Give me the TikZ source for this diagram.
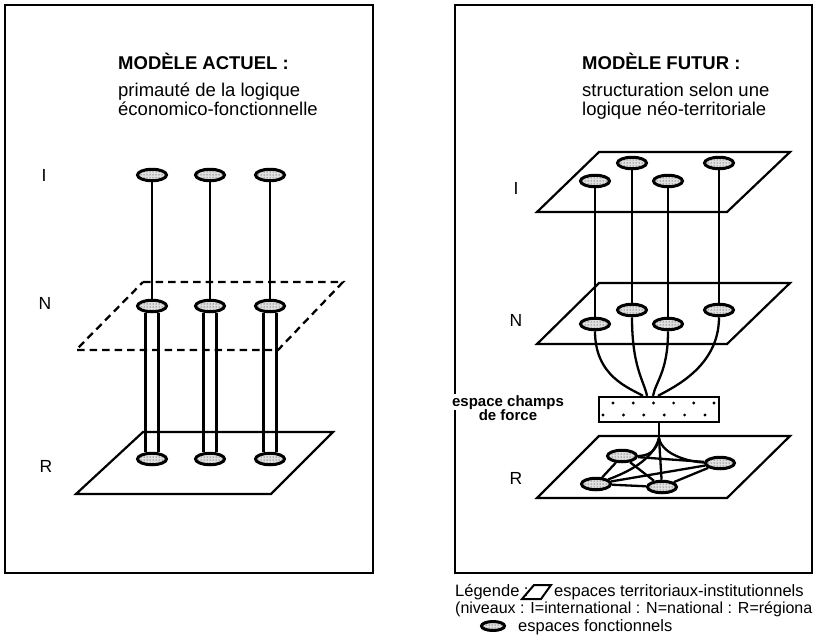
\documentclass[tikz,border=0pt]{standalone}
\usepackage{fontspec}
\setmainfont{Liberation Sans}
\usetikzlibrary{shapes.geometric,patterns,backgrounds}
\begin{document}
\begin{tikzpicture}[x=1pt,y=-1pt,
  fe/.style={ellipse, draw, line width=3pt, minimum width=29pt, minimum height=11.5pt, inner sep=0pt,
    fill=black!12, postaction={pattern=dots, pattern color=black!90}},
  frame/.style={line width=1.5pt},
  plane/.style={line width=2.2pt, line join=miter},
  dplane/.style={line width=2.3pt, dash pattern=on 7.5pt off 5pt},
  link/.style={line width=2.3pt},
  pipe/.style={line width=2.3pt, double=white, double distance=10.5pt},
  lvl/.style={anchor=base, inner sep=0pt, font=\fontsize{17.5}{17.5}\selectfont},
  ttl/.style={anchor=base west, inner sep=0pt, font=\fontsize{18.5}{18.5}\selectfont\bfseries},
  sub/.style={anchor=base west, inner sep=0pt, font=\fontsize{18.5}{18.5}\selectfont},
  lbl/.style={anchor=base, inner sep=0pt, font=\fontsize{15}{15}\selectfont\bfseries},
  leg/.style={anchor=base west, inner sep=0pt, font=\fontsize{16.5}{16.5}\selectfont},
  forcebox/.style={draw, line width=2.3pt, minimum width=120pt, minimum height=25pt, inner sep=0pt, fill=white}
]
\useasboundingbox (0,0) rectangle (816,643);

% ---------------- left panel ----------------
\draw[frame] (5,5) rectangle (373,573);
\node[ttl] (t1) at (118,69) {MODÈLE ACTUEL :};
\node[sub] (s1a) at (118,96) {primauté de la logique};
\node[sub] (s1b) at (118,115) {économico-fonctionnelle};

\node[lvl] (lI) at (44,181) {I};
\node[lvl] (lN) at (45,309) {N};
\node[lvl] (lR) at (46,472) {R};

\foreach \i/\x in {1/152,2/210,3/270} {
  \node[fe] (I\i) at (\x,175) {};
  \node[fe] (N\i) at (\x,306) {};
  \node[fe] (R\i) at (\x,459) {};
}
\begin{scope}[on background layer]
  \foreach \i in {1,2,3} {
    \draw[link] (I\i) -- (N\i);
    \draw[pipe] (N\i) -- (R\i);
  }
\end{scope}
\draw[dplane] (143,282) -- (343,282) -- (278,350) -- (76,350) -- cycle;
\draw[plane] (143,432) -- (333,432) -- (271,494) -- (76,494) -- cycle;

% ---------------- right panel ----------------
\draw[frame] (455,5) rectangle (812,573);
\node[ttl] (t2) at (582,69) {MODÈLE FUTUR :};
\node[sub] (s2a) at (582,96) {structuration selon une};
\node[sub] (s2b) at (582,115) {logique néo-territoriale};

\node[lvl] (rI) at (516,194) {I};
\node[lvl] (rN) at (516,326) {N};
\node[lvl] (rR) at (516,484) {R};

\draw[plane] (599,152) -- (790,152) -- (727,212) -- (537,212) -- cycle;
\draw[plane] (599,283) -- (790,283) -- (727,344) -- (537,344) -- cycle;
\draw[plane] (599,436) -- (790,436) -- (727,498) -- (537,498) -- cycle;

\node[fe] (FI1) at (595,181) {};
\node[fe] (FI2) at (632,163) {};
\node[fe] (FI3) at (668,181) {};
\node[fe] (FI4) at (719,163) {};
\node[fe] (FN1) at (595,324) {};
\node[fe] (FN2) at (632,310) {};
\node[fe] (FN3) at (668,324) {};
\node[fe] (FN4) at (719,310) {};

\node[forcebox] (box) at (659,409.5) {};
\foreach \k in {0,...,5} {
  \fill ({613+20.2*\k},403) circle (1.6pt);
  \fill ({603+20.4*\k},415) circle (1.6pt);
}
\node[lbl, fill=white, inner sep=1pt] (fl1) at (508,406) {espace champs};
\node[lbl] (fl2) at (508,420) {de force};

\coordinate (J) at (659,438);

\node[fe] (RA) at (622,456) {};
\node[fe] (RB) at (596,484) {};
\node[fe] (RC) at (662,487) {};
\node[fe] (RD) at (720,463) {};

\begin{scope}[on background layer]
  \foreach \i in {1,2,3,4} { \draw[link] (FI\i) -- (FN\i); }
  \draw[link] (FN1.south) .. controls +(0,45) and +(-14,-8) .. ([xshift=-16pt]box.north);
  \draw[link] (FN2.south) .. controls +(0,50) and +(-3,-15) .. ([xshift=-12pt]box.north);
  \draw[link] (FN3.south) .. controls +(0,40) and +(3,-15) .. ([xshift=-6pt]box.north);
  \draw[link] (FN4.south) .. controls +(0,50) and +(14,-8) .. ([xshift=-1pt]box.north);
  \draw[link] (box.south) -- (J);
  \draw[link] (J) -- (RC);
  \draw[link] (J) .. controls (657,451) and (648,456) .. (RA);
  \draw[link] (J) .. controls (653,460) and (628,472) .. (RB);
  \draw[link] (J) .. controls (662,455) and (690,462) .. (RD);
  \draw[link] (RA) -- (RB);
  \draw[link] (RA) -- (RD);
  \draw[link] (RA) -- (RC);
  \draw[link] (RB) -- (RD);
  \draw[link] (RB) -- (RC);
  \draw[link] (RC) -- (RD);
\end{scope}

% ---------------- legend ----------------
\node[leg] (lg1) at (455,596) {Légende :};
\draw[line width=2pt, line join=miter] (522,599) coordinate (pA) -- (541,599) -- (551,585) -- (534,585) -- cycle;
\node[leg] (lg2) at (554,596) {espaces territoriaux-institutionnels};
\node[leg, font=\fontsize{16}{16}\selectfont] (lg3) at (455,613) {(niveaux : I=international : N=national : R=régiona};
\node[fe, minimum width=23pt, minimum height=9pt] (lge) at (493,626) {};
\node[leg] (lg4) at (518,631) {espaces fonctionnels};
\end{tikzpicture}
\end{document}
